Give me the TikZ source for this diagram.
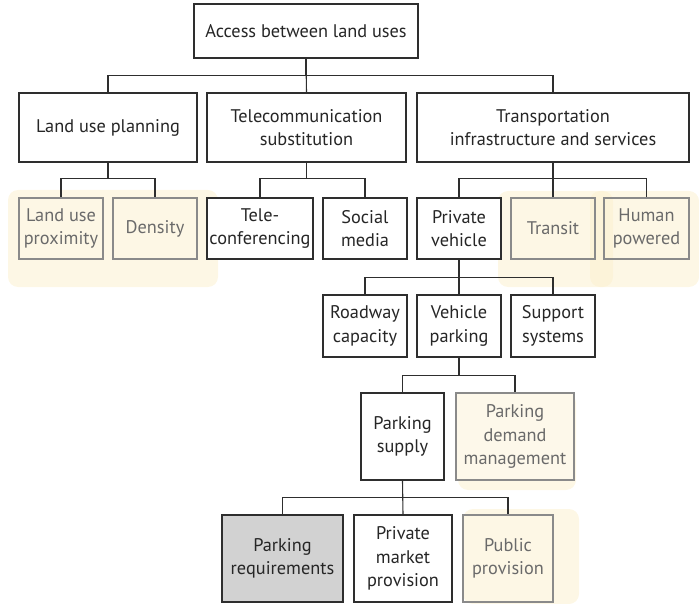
\documentclass[tikz,border=0pt]{standalone}
\usepackage{fontspec}
\setmainfont{PT Sans}
\definecolor{linec}{HTML}{2E2E2E}
\definecolor{fadec}{HTML}{8A8A8A}
\definecolor{fadetext}{HTML}{6A6A6A}
\definecolor{cream}{HTML}{FBEFCC}
\definecolor{creamfill}{HTML}{FDF8EA}
\definecolor{grayfill}{HTML}{D2D2D2}
\begin{document}
\begin{tikzpicture}[x=1pt,y=-1pt,
  box/.style={draw=linec, line width=1.1pt, fill=white, align=center, inner sep=0pt,
    font=\fontsize{18.3}{23.5}\selectfont, text=black!85},
  fadebox/.style={box, draw=fadec, fill=none, text=fadetext},
  glow/.style={fill=cream, fill opacity=0.5, draw=none, rounded corners=10pt},
  link/.style={draw=linec, line width=1.1pt}]
\useasboundingbox (0,0) rectangle (699,604);
% highlights
\fill[glow] (8,190) rectangle (218,287);
\fill[glow] (498,191) rectangle (613,287);
\fill[glow] (590,191) rectangle (699,287);
\fill[glow] (458,393) rectangle (576,490);
\fill[glow] (463,509) rectangle (579,604);
% nodes
\node[box, minimum width=224, minimum height=54] (top) at (306,31) {Access between land uses};
\node[box, minimum width=178, minimum height=69] (lup) at (108,127.5) {Land use planning};
\node[box, minimum width=199, minimum height=69] (tel) at (306.5,127.5) {Telecommunication\\substitution};
\node[box, minimum width=272, minimum height=69] (tra) at (553,127.5) {Transportation\\infrastructure and services};
\node[fadebox, minimum width=84, minimum height=61] (prox) at (61,228.5) {Land use\\proximity};
\node[fadebox, minimum width=84, minimum height=61] (den) at (155,228.5) {Density};
\node[box, minimum width=106, minimum height=61] (telc) at (260,228.5) {Tele-\\conferencing};
\node[box, minimum width=84, minimum height=61] (soc) at (365,228.5) {Social\\media};
\node[box, minimum width=84, minimum height=61] (pv) at (459,228.5) {Private\\vehicle};
\node[fadebox, minimum width=84, minimum height=61] (tr) at (553,228.5) {Transit};
\node[fadebox, minimum width=85, minimum height=61] (hp) at (646.5,228.5) {Human\\powered};
\node[box, minimum width=84, minimum height=62] (rc) at (365,326) {Roadway\\capacity};
\node[box, minimum width=84, minimum height=62] (vp) at (459,326) {Vehicle\\parking};
\node[box, minimum width=84, minimum height=62] (ss) at (553,326) {Support\\systems};
\node[box, minimum width=83, minimum height=87] (ps) at (402.5,436.5) {Parking\\supply};
\node[fadebox, fill=creamfill, minimum width=118, minimum height=87] (pdm) at (515,436.5) {Parking\\demand\\management};
\node[box, fill=grayfill, line width=1.8pt, minimum width=121, minimum height=87] (pr) at (282.5,558.5) {Parking\\requirements};
\node[box, minimum width=98, minimum height=87] (pmp) at (403,558.5) {Private\\market\\provision};
\node[fadebox, minimum width=90, minimum height=87] (pub) at (508,558.5) {Public\\provision};
% connectors
\draw[link] (top.south) -- (tel.north);
\draw[link] (top.south) -- ++(0,17) -| (lup.north);
\draw[link] (top.south) -- ++(0,17) -| (tra.north);
\draw[link] (lup.south) -- ++(0,16) -| (prox.north);
\draw[link] (lup.south) -- ++(0,16) -| (den.north);
\draw[link] (tel.south) -- ++(0,16) -| (telc.north);
\draw[link] (tel.south) -- ++(0,16) -| (soc.north);
\draw[link] (tra.south) -- (tr.north);
\draw[link] (tra.south) -- ++(0,16) -| (pv.north);
\draw[link] (tra.south) -- ++(0,16) -| (hp.north);
\draw[link] (pv.south) -- (vp.north);
\draw[link] (pv.south) -- ++(0,18) -| (rc.north);
\draw[link] (pv.south) -- ++(0,18) -| (ss.north);
\draw[link] (vp.south) -- ++(0,18) -| (ps.north);
\draw[link] (vp.south) -- ++(0,18) -| (pdm.north);
\draw[link] (ps.south) -- (pmp.north);
\draw[link] (ps.south) -- ++(0,17) -| (pr.north);
\draw[link] (ps.south) -- ++(0,17) -| (pub.north);
\end{tikzpicture}
\end{document}
